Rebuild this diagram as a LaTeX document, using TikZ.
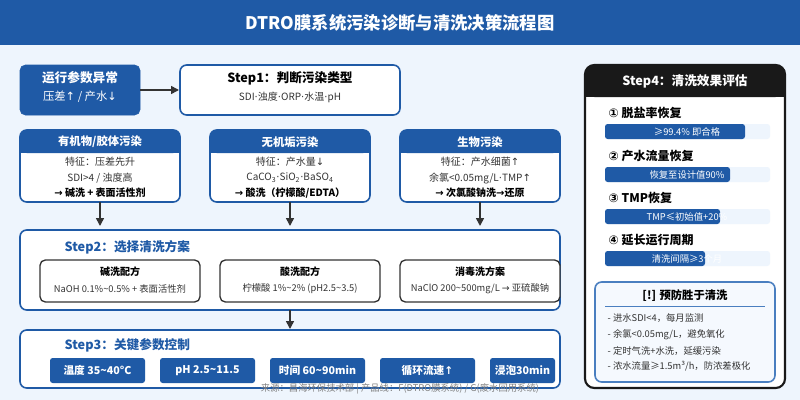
\documentclass[tikz,border=0pt]{standalone}
\usepackage{fontspec}
\setmainfont{Noto Sans CJK SC}
\newfontfamily\dv{DejaVu Sans}
\newcommand{\md}{{\dv ·}}
\usetikzlibrary{arrows.meta}
\definecolor{mb}{HTML}{1F5AA6}
\definecolor{bgc}{HTML}{EEF5FD}
\definecolor{dk}{HTML}{333333}
\definecolor{lb}{HTML}{4A7FC0}
\begin{document}
\begin{tikzpicture}[x=0.75pt,y=-0.75pt,
 bluebox/.style={fill=mb,draw=mb,rounded corners=4pt},
 wbox/.style={fill=white,draw=mb,line width=1.2pt,rounded corners=5pt},
 gbox/.style={fill=white,draw=dk,line width=1pt,rounded corners=4pt},
 chip/.style={fill=mb,rounded corners=2pt,text=white,font=\bfseries\fontsize{8}{10}\selectfont,anchor=center},
 arr/.style={-{Triangle[length=6pt,width=6pt]},draw=dk,line width=1.2pt},
 t/.style={font=\fontsize{7.5}{9}\selectfont,text=dk},
 tb/.style={font=\bfseries\fontsize{7.5}{10}\selectfont,text=black},
 hd/.style={font=\bfseries\fontsize{8.5}{10}\selectfont,text=white}]
\useasboundingbox (0,0) rectangle (800,400);
\fill[bgc] (0,0) rectangle (800,400);
\fill[mb] (0,0) rectangle (800,45);
\node[text=white,font=\bfseries\fontsize{13}{15}\selectfont] (title) at (400,23) {DTRO膜系统污染诊断与清洗决策流程图};
% top row
\draw[bluebox] (20,65) rectangle (140,115);
\node[font=\bfseries\fontsize{9.5}{11}\selectfont,text=white] (abn) at (80,78) {运行参数异常};
\node[font=\fontsize{8.5}{10}\selectfont,text=white] (abn2) at (80,97) {压差{\dv↑} / 产水{\dv↓}};
\coordinate (a1) at (140,90);
\draw[wbox] (180,65) rectangle (400,115);
\coordinate (s1) at (179,90);
\draw[arr] (a1) -- (s1);
\node[font=\bfseries\fontsize{9.5}{11}\selectfont] (st1) at (290,78) {Step1：判断污染类型};
\node[t] (st1b) at (290,97) {SDI\md 浊度\md ORP\md 水温\md pH};
% categories
\foreach \x/\h/\a/\b/\c [count=\i] in {20/{有机物/胶体污染}/特征：压差先升/{SDI>4 / 浊度高}/{{\dv→} 碱洗 + 表面活性剂},
 210/无机垢污染/特征：产水量{\dv↓}/{CaCO\textsubscript{3}\md SiO\textsubscript{2}\md BaSO\textsubscript{4}}/{{\dv→} 酸洗（柠檬酸/EDTA）},
 400/生物污染/特征：产水细菌{\dv↑}/{余氯<0.05mg/L\md TMP{\dv↑}}/{{\dv→} 次氯酸钠洗{\dv→}还原}}{
 \draw[wbox] (\x,130) rectangle ++(160,72);
 \fill[mb,rounded corners=5pt] (\x,130) rectangle ++(160,23);
 \fill[mb] (\x,145) rectangle ++(160,8);
 \node[hd] (h\i) at (\x+80,142) {\h};
 \node[t] (c\i a) at (\x+80,162) {\a};
 \node[t] (c\i b) at (\x+80,178) {\b};
 \node[tb] (c\i c) at (\x+80,193) {\c};
 \coordinate (d\i) at (\x+80,202);
 \coordinate (e\i) at (\x+80,226);
 \draw[arr] (d\i) -- (e\i);
}
% step2
\draw[wbox] (20,230) rectangle (560,310);
\node[font=\bfseries\fontsize{9.5}{11}\selectfont,text=mb,anchor=west] (st2) at (60,247) {Step2：选择清洗方案};
\foreach \x/\h/\a [count=\i] in {40/碱洗配方/{NaOH 0.1\%\textasciitilde 0.5\% + 表面活性剂},220/酸洗配方/{柠檬酸 1\%\textasciitilde 2\% (pH2.5\textasciitilde 3.5)},400/消毒洗方案/{NaClO 200\textasciitilde 500mg/L {\dv→} 亚硫酸钠}}{
 \draw[gbox] (\x,260) rectangle ++(160,42);
 \node[tb] (r\i) at (\x+80,272) {\h};
 \node[font=\fontsize{7}{9}\selectfont,text=dk] (r\i b) at (\x+80,289) {\a};
}
\coordinate (f1) at (290,310);
\coordinate (f2) at (290,329);
\draw[arr] (f1) -- (f2);
% step3
\draw[wbox] (20,330) rectangle (560,388);
\node[font=\bfseries\fontsize{9.5}{11}\selectfont,text=mb,anchor=west] (st3) at (60,345) {Step3：关键参数控制};
\foreach \x/\w/\s [count=\i] in {50/95/温度 35\textasciitilde 40°C,160/95/pH 2.5\textasciitilde 11.5,270/95/时间 60\textasciitilde 90min,380/95/循环流速{\dv↑},490/65/浸泡30min}{
 \fill[mb,rounded corners=2pt] (\x,358) rectangle ++(\w,25);
 \node[chip] (k\i) at (\x+\w/2,370.5) {\s};
}
\node[font=\fontsize{7}{8}\selectfont,text=gray] (src) at (400,389) {来源：昌海环保技术部 | 产品线：F(DTRO膜系统) / G(废水回用系统)};
% right panel
\draw[fill=white,draw=black!90,line width=1.6pt,rounded corners=7pt] (585,65) rectangle (785,388);
\fill[black!90,rounded corners=7pt] (585,65) rectangle (785,97);
\fill[black!90] (585,85) rectangle (785,97);
\node[font=\bfseries\fontsize{9.5}{11}\selectfont,text=white] (st4) at (685,81) {Step4：清洗效果评估};
\foreach \y/\l/\e/\s [count=\i] in {113/{\dv ①} 脱盐率恢复/745/≥99.4\% 即合格,156/{\dv ②} 产水流量恢复/730/恢复至设计值90\%,198/{\dv ③} TMP恢复/720/TMP≤初始值+20\%,240/{\dv ④} 延长运行周期/705/清洗间隔≥3个月}{
 \node[tb,anchor=west,font=\bfseries\fontsize{9}{10}\selectfont] (m\i) at (604,\y) {\l};
 \fill[bgc,rounded corners=2pt] (605,\y+11) rectangle (770,\y+26);
 \fill[mb,rounded corners=2pt] (605,\y+11) rectangle (\e,\y+26);
 \node[font=\fontsize{7}{8}\selectfont,text=white] (v\i) at (687,\y+18.5) {\s};
}
\draw[fill=bgc!60,draw=lb,line width=1.2pt,rounded corners=5pt] (595,282) rectangle (775,382);
\node[tb,font=\bfseries\fontsize{8.5}{10}\selectfont] (pv) at (685,296) {[!] 预防胜于清洗};
\draw[lb,line width=1pt] (605,306.5) -- (765,306.5);
\foreach \y/\s [count=\i] in {318/{- 进水SDI<4，每月监测},335/{- 余氯<0.05mg/L，避免氧化},351/{- 定时气洗+水洗，延缓污染},366/{- 浓水流量≥1.5m³/h，防浓差极化}}{
 \node[t,anchor=west,font=\fontsize{7}{8}\selectfont] (p\i) at (603,\y) {\s};
}
\end{tikzpicture}
\end{document}
